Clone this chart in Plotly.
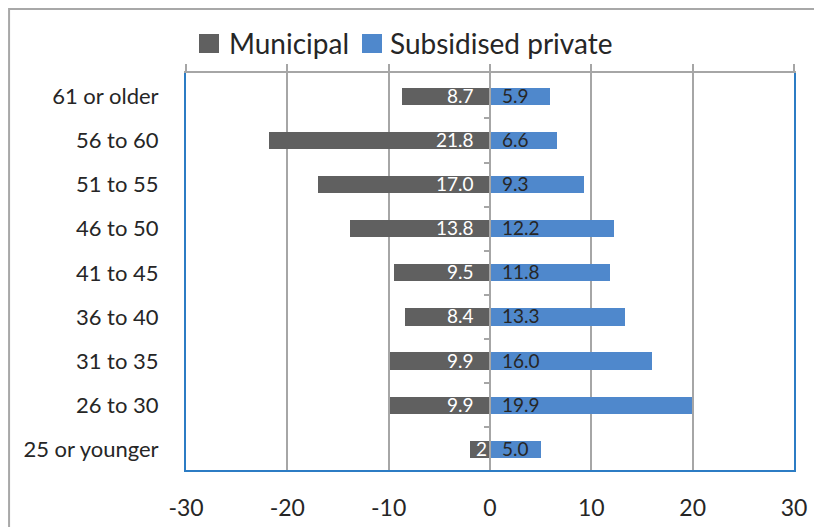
import plotly.graph_objects as go

# Age bands, bottom to top
age_groups = ["25 or younger", "26 to 30", "31 to 35", "36 to 40", "41 to 45",
              "46 to 50", "51 to 55", "56 to 60", "61 or older"]
# Share of teachers (%) – municipal drawn to the left, subsidised private to the right
municipal = [-2.0, -9.9, -9.9, -8.4, -9.5, -13.8, -17.0, -21.8, -8.7]
municipal_labels = ["2", "9.9", "9.9", "8.4", "9.5", "13.8", "17.0", "21.8", "8.7"]
subsidised = [5.0, 19.9, 16.0, 13.3, 11.8, 12.2, 9.3, 6.6, 5.9]
x_ticks = [-30, -20, -10, 0, 10, 20, 30]
series_names = ["Municipal", "Subsidised private"]

GREY_BAR = "#606060"
BLUE_BAR = "#4f88cc"
FRAME_BLUE = "#2c7cc4"
GRID = "#a6a6a6"
TEXT = "#262626"
FONT = "Lato"

y_range = [-0.47, 8.53]

fig = go.Figure()
fig.add_trace(go.Bar(y=age_groups, x=municipal, orientation="h", name=series_names[0],
                     marker=dict(color=GREY_BAR, line=dict(width=0)), width=0.39,
                     showlegend=False))
fig.add_trace(go.Bar(y=age_groups, x=subsidised, orientation="h", name=series_names[1],
                     marker=dict(color=BLUE_BAR, line=dict(width=0)), width=0.39,
                     showlegend=False))
# invisible carrier so the secondary (top / centre) axes get rendered
fig.add_trace(go.Scatter(x=[0], y=[0], xaxis="x2", yaxis="y2", mode="markers",
                         marker=dict(opacity=0), showlegend=False, hoverinfo="skip"))

annotations = []
for cat, v, lab in zip(age_groups, municipal, municipal_labels):
    annotations.append(dict(x=0, y=cat, xref="x", yref="y", text=lab, showarrow=False,
                            xanchor="right", xshift=-14 if abs(v) > 4 else -1, yshift=1,
                            font=dict(family=FONT, size=19, color="white")))
for cat, v in zip(age_groups, subsidised):
    annotations.append(dict(x=0, y=cat, xref="x", yref="y", text=f"{v:.1f}", showarrow=False,
                            xanchor="left", xshift=10, yshift=1,
                            font=dict(family=FONT, size=19, color=TEXT)))

# Legend: swatch squares plus labels across the top
legend_items = [(series_names[0], GREY_BAR, 0.0214, 0.0674),
                (series_names[1], BLUE_BAR, 0.2895, 0.3322)]
shapes = [dict(type="rect", xref="paper", yref="paper",
               x0=-0.291, x1=1.06, y0=-0.3, y1=1.1612,
               line=dict(color="#a8a8a8", width=2), fillcolor="rgba(0,0,0,0)",
               layer="below")]
for name, col, sx, tx in legend_items:
    shapes.append(dict(type="rect", xref="paper", yref="paper",
                       x0=sx, x1=sx + 0.0329, y0=1.0504, y1=1.0982,
                       line=dict(width=0), fillcolor=col))
    annotations.append(dict(x=tx, y=1.0756, xref="paper", yref="paper", text=name,
                            showarrow=False, xanchor="left", yanchor="middle",
                            font=dict(family=FONT, size=28, color=TEXT)))

fig.update_layout(
    width=814, height=527,
    margin=dict(l=186, r=20, t=73, b=57, autoexpand=False),
    paper_bgcolor="white", plot_bgcolor="white",
    barmode="relative", bargap=0,
    font=dict(family=FONT, color=TEXT),
    showlegend=False,
    xaxis=dict(range=[-30, 30], tickvals=x_ticks, ticktext=[str(t) for t in x_ticks],
               showgrid=True, gridcolor=GRID, gridwidth=1.5, zeroline=False,
               showline=True, linecolor=FRAME_BLUE, linewidth=2, ticks="",
               automargin=False, ticklabelstandoff=16,
               tickfont=dict(family=FONT, size=23, color=TEXT)),
    xaxis2=dict(range=[-30, 30], overlaying="x", side="top", anchor="y",
                tickvals=x_ticks, showticklabels=False, showgrid=False, zeroline=False,
                showline=True, linecolor=GRID, linewidth=2, automargin=False,
                ticks="outside", ticklen=7, tickcolor=GRID, tickwidth=1.5),
    yaxis=dict(type="category", categoryorder="array", categoryarray=age_groups,
               range=y_range, showgrid=False, zeroline=False,
               showline=True, linecolor=FRAME_BLUE, linewidth=2, mirror=True,
               ticks="", ticklabelstandoff=21, automargin=False,
               tickfont=dict(family=FONT, size=22, color=TEXT)),
    yaxis2=dict(range=y_range, overlaying="y", anchor="free",
                position=0.5, side="left", automargin=False,
                tickvals=[i + 0.5 for i in range(len(age_groups) - 1)],
                showticklabels=False, showgrid=False, zeroline=False,
                showline=True, linecolor=GRID, linewidth=2,
                ticks="outside", ticklen=5, tickcolor=GRID, tickwidth=1.5),
    annotations=annotations,
    shapes=shapes,
)

fig.write_html("out.html")
